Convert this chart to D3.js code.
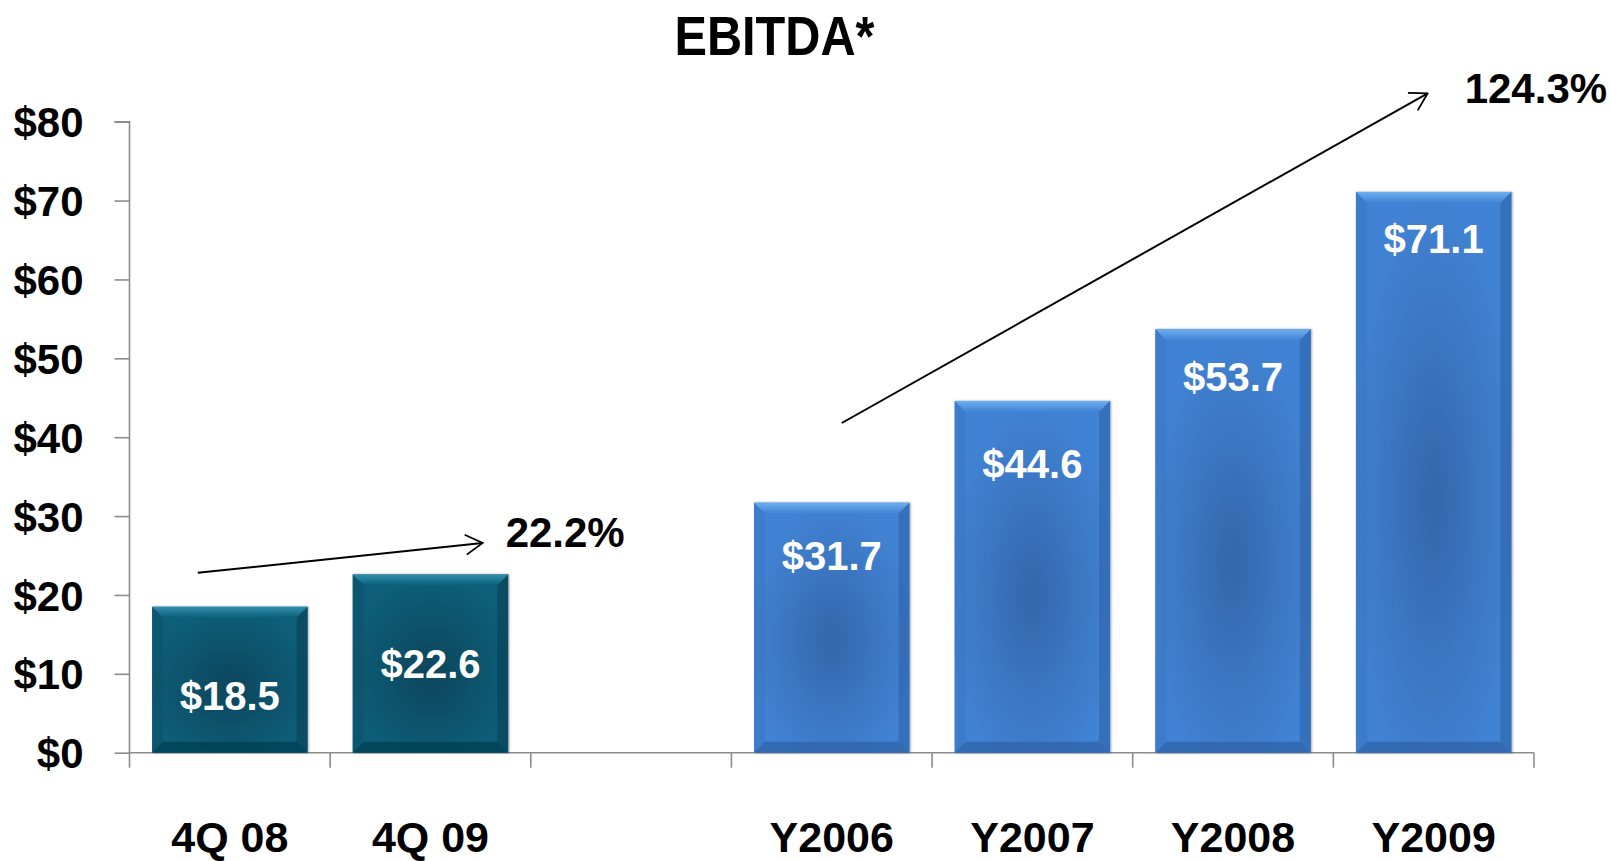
<!DOCTYPE html>
<html>
<head>
<meta charset="utf-8">
<script src="https://cdn.jsdelivr.net/npm/d3@7"></script>
<style>
  html, body { margin: 0; padding: 0; background: #fff; }
  svg { display: block; font-family: "Liberation Sans", Arial, sans-serif; font-weight: bold; }
</style>
</head>
<body>
<svg id="chart" width="1610" height="861"></svg>
<script>
// chart data
const categories = ["4Q 08", "4Q 09", "", "Y2006", "Y2007", "Y2008", "Y2009"];
const barCategories = ["4Q 08", "4Q 09", "Y2006", "Y2007", "Y2008", "Y2009"];
const barValues = [18.5, 22.6, 31.7, 44.6, 53.7, 71.1];
const barGroups = ["quarter", "quarter", "year", "year", "year", "year"];
const yTicks = [0, 10, 20, 30, 40, 50, 60, 70, 80];
const growthLabels = ["22.2%", "124.3%"];
// arrow ends as [category, position inside band (0..1), value]
const growthFrom = [["4Q 08", 0.34, 22.8], ["Y2006", 0.55, 41.8]];
const growthTo = [["4Q 09", 0.76, 26.6], ["Y2009", 0.47, 83.6]];

const svg = d3.select("#chart");
const defs = svg.append("defs");

// scales
const x = d3.scaleBand().domain(categories).range([129.5, 1534]).paddingInner(0.225).paddingOuter(0.1125);
const y = d3.scaleLinear().domain([0, 80]).range([752.7, 121.7]);

// colour sets for the two bar groups
const palette = {
  quarter: { body: "#0a5f7a", center: "#08455b", top: "#3390ad", side: "#075066", bottom: "#053f52" },
  year:    { body: "#4183d4", center: "#3566ab", top: "#6eaef0", side: "#3a74bf", bottom: "#2f63a8" }
};
Object.entries(palette).forEach(([k, c]) => {
  const g = defs.append("radialGradient").attr("id", "rad-" + k).attr("cx", "50%").attr("cy", "55%").attr("r", "55%");
  g.append("stop").attr("offset", "0%").attr("stop-color", c.center);
  g.append("stop").attr("offset", "100%").attr("stop-color", c.body);
  const t = defs.append("linearGradient").attr("id", "top-" + k).attr("x1", 0).attr("y1", 0).attr("x2", 0).attr("y2", 1);
  t.append("stop").attr("offset", "0%").attr("stop-color", c.top);
  t.append("stop").attr("offset", "100%").attr("stop-color", c.body);
});
const shadow = defs.append("filter").attr("id", "shadow").attr("x", "-10%").attr("y", "-10%").attr("width", "120%").attr("height", "120%");
shadow.append("feDropShadow").attr("dx", 1).attr("dy", 0).attr("stdDeviation", 1.2).attr("flood-color", "#000").attr("flood-opacity", 0.35);

// y axis
svg.append("g")
  .attr("transform", "translate(" + x.range()[0] + ",0)")
  .call(d3.axisLeft(y).tickValues(yTicks).tickSize(15).tickPadding(31).tickFormat(d => "$" + d))
  .call(g => g.selectAll("path, line").attr("stroke", "#8c8c8c").attr("stroke-width", 1.6))
  .call(g => g.select(".domain").attr("d", "M-15," + y(80) + "H0V" + y(0)))
  .call(g => g.selectAll("text").attr("font-size", 42).attr("font-weight", "bold").attr("fill", "#000")
    .attr("font-family", "'Liberation Sans', Arial, sans-serif").attr("dy", "0.36em"));

// x axis line and band boundary ticks
const xAxis = svg.append("g").attr("transform", "translate(0," + y(0) + ")");
xAxis.append("line").attr("x1", x.range()[0]).attr("x2", x.range()[1]).attr("stroke", "#8c8c8c").attr("stroke-width", 1.6);
xAxis.selectAll("line.tick")
  .data(d3.range(categories.length + 1))
  .join("line")
  .attr("class", "tick")
  .attr("x1", i => x.range()[0] + i * x.step())
  .attr("x2", i => x.range()[0] + i * x.step())
  .attr("y2", 15)
  .attr("stroke", "#8c8c8c").attr("stroke-width", 1.6);
xAxis.selectAll("text")
  .data(categories.filter(d => d))
  .join("text")
  .attr("x", d => x(d) + x.bandwidth() / 2)
  .attr("y", 99)
  .attr("text-anchor", "middle")
  .attr("font-size", 43)
  .text(d => d);

// bars with bevel
const bev = 11;
const bars = svg.selectAll("g.bar")
  .data(barCategories.map((c, i) => ({ cat: c, value: barValues[i], group: barGroups[i] })))
  .join("g")
  .attr("class", "bar")
  .attr("filter", "url(#shadow)");

bars.each(function(d) {
  const g = d3.select(this);
  const c = palette[d.group];
  const x0 = x(d.cat), x1 = x0 + x.bandwidth(), y0 = y(d.value), y1 = y(0);
  g.append("rect").attr("x", x0).attr("y", y0).attr("width", x1 - x0).attr("height", y1 - y0)
    .attr("fill", "url(#rad-" + d.group + ")");
  // top bevel
  g.append("path").attr("d", `M${x0},${y0}H${x1}L${x1 - bev},${y0 + bev}H${x0 + bev}Z`).attr("fill", "url(#top-" + d.group + ")");
  // side bevels
  g.append("path").attr("d", `M${x0},${y0}L${x0 + bev},${y0 + bev}V${y1 - bev}L${x0},${y1}Z`).attr("fill", c.side).attr("opacity", 0.5);
  g.append("path").attr("d", `M${x1},${y0}L${x1 - bev},${y0 + bev}V${y1 - bev}L${x1},${y1}Z`).attr("fill", c.bottom).attr("opacity", 0.6);
  // bottom bevel
  g.append("path").attr("d", `M${x0},${y1}H${x1}L${x1 - bev},${y1 - bev}H${x0 + bev}Z`).attr("fill", c.bottom).attr("opacity", 0.75);
});

// value labels inside the bars (offset from bar top in px)
const labelDy = [89, 89, 53, 63, 47, 47];
svg.selectAll("text.value")
  .data(barValues)
  .join("text")
  .attr("class", "value")
  .attr("x", (d, i) => x(barCategories[i]) + x.bandwidth() / 2)
  .attr("y", (d, i) => y(d) + labelDy[i])
  .attr("dy", "0.36em")
  .attr("text-anchor", "middle")
  .attr("font-size", 40)
  .attr("fill", "#fff")
  .text(d => "$" + d.toFixed(1));

// growth arrows
defs.append("marker").attr("id", "arrow").attr("viewBox", "0 0 20 24").attr("refX", 19).attr("refY", 12)
  .attr("markerWidth", 20).attr("markerHeight", 24).attr("markerUnits", "userSpaceOnUse").attr("orient", "auto")
  .append("path").attr("d", "M2,2L19,12L2,22").attr("fill", "none").attr("stroke", "#000").attr("stroke-width", 1.8);

const px = p => x(p[0]) - x.step() * x.paddingInner() / 2 + p[1] * x.step();
const arrows = growthFrom.map((f, i) => ({ from: f, to: growthTo[i], label: growthLabels[i] }));
svg.selectAll("line.growth")
  .data(arrows)
  .join("line")
  .attr("class", "growth")
  .attr("x1", d => px(d.from)).attr("y1", d => y(d.from[2]))
  .attr("x2", d => px(d.to)).attr("y2", d => y(d.to[2]))
  .attr("stroke", "#000").attr("stroke-width", 2)
  .attr("marker-end", "url(#arrow)");

const labelShift = [[23, 4], [37, 10]];
svg.selectAll("text.growth")
  .data(arrows)
  .join("text")
  .attr("class", "growth")
  .attr("x", (d, i) => px(d.to) + labelShift[i][0])
  .attr("y", (d, i) => y(d.to[2]) + labelShift[i][1])
  .attr("font-size", 42)
  .text(d => d.label);

// title
svg.append("text")
  .attr("x", 774.5).attr("y", 55)
  .attr("text-anchor", "middle")
  .attr("font-size", 56)
  .attr("textLength", 200)
  .attr("lengthAdjust", "spacingAndGlyphs")
  .text("EBITDA*");
</script>
</body>
</html>
